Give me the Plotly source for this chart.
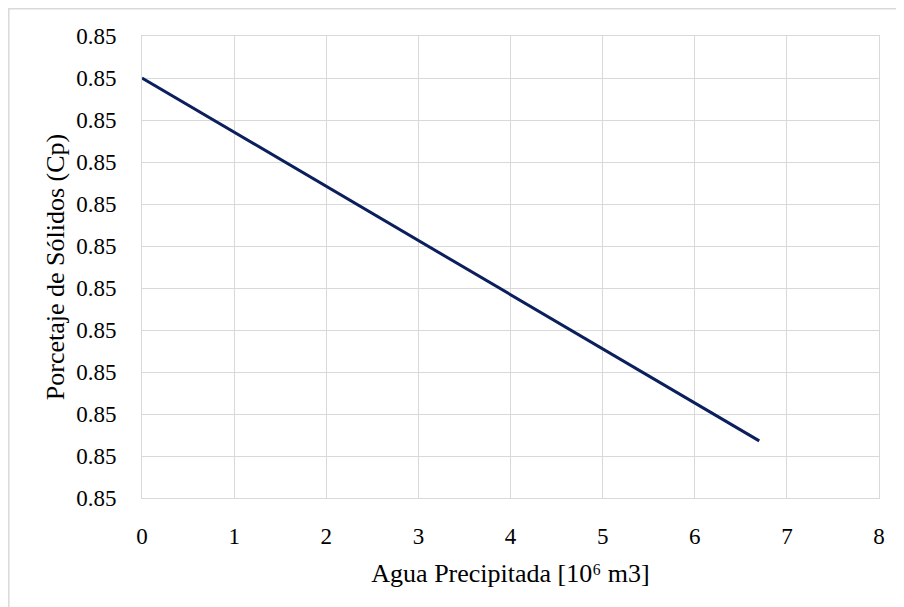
import plotly.graph_objects as go

# Data
x_agua = [0.0, 6.7]
y_cp = [0.85100, 0.850136]
x_ticks = [0, 1, 2, 3, 4, 5, 6, 7, 8]
y_tick_vals = [0.8500 + 0.0001 * i for i in range(12)]
y_tick_text = ["0.85"] * 12

W, H = 904, 607
OFF = 8  # page body margin
L, R, T, B = 142 - OFF, 904 - 879 + OFF, 36 - OFF, 607 - 498 + OFF
pw, ph = W - L - R, H - T - B

fig = go.Figure()
fig.add_trace(go.Scatter(x=x_agua, y=y_cp, mode="lines",
                         line=dict(color="#0b1f5c", width=3), showlegend=False))

fam = "Liberation Serif"
tfont = dict(family=fam, size=23, color="#000000")
hfont = dict(family=fam, size=26, color="#000000")

fig.update_layout(
    width=W, height=H,
    margin=dict(l=L, r=R, t=T, b=B),
    paper_bgcolor="white", plot_bgcolor="white",
    font=tfont,
    xaxis=dict(range=[0, 8], tickvals=x_ticks, showgrid=True, gridcolor="#d9d9d9", gridwidth=1,
               showline=True, linecolor="#d9d9d9", linewidth=1, mirror=True, zeroline=False,
               ticks="", tickfont=tfont, ticklabelstandoff=17,
               title=dict(text="Agua Precipitada [10⁶ m3]", font=hfont, standoff=16)),
    yaxis=dict(range=[0.8500, 0.8511], tickvals=y_tick_vals, ticktext=y_tick_text,
               showgrid=True, gridcolor="#d9d9d9", gridwidth=1,
               showline=True, linecolor="#d9d9d9", linewidth=1, mirror=True, zeroline=False,
               ticks="", tickfont=tfont, ticklabelstandoff=20,
               title=dict(text="Porcetaje de Sólidos (Cp)", font=hfont, standoff=4)),
)

# Outer chart border (top and left visible); page x/y ~8
fig.add_shape(type="rect", xref="paper", yref="paper",
              x0=(8.8 - 142) / pw, x1=(920 - 142) / pw,
              y0=1 - (620 - 36) / ph, y1=1 + (36 - 8.8) / ph,
              line=dict(color="#d9d9d9", width=1.5), fillcolor="rgba(0,0,0,0)", layer="below")

fig.write_html("out.html")
